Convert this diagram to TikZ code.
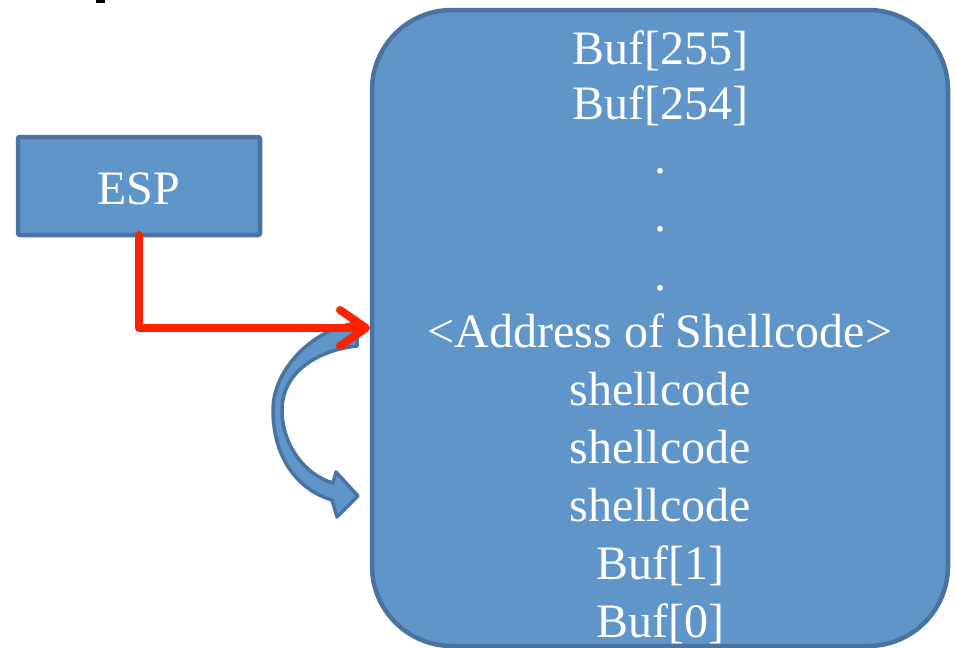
\documentclass[tikz,border=0pt]{standalone}
\usepackage{fontspec}
\setmainfont{Liberation Serif}
\usetikzlibrary{arrows.meta}
\definecolor{boxfill}{HTML}{5F95C9}
\definecolor{boxline}{HTML}{4A73A0}
\definecolor{redline}{HTML}{FF2200}
\tikzset{
  x=1pt, y=-1pt,
  memtext/.style={text=white, font=\fontsize{48}{50}\selectfont, anchor=base, inner sep=0pt},
  blockbox/.style={fill=boxfill, draw=boxline, line width=4.5pt},
  pointer/.style={draw=redline, line width=8pt, line cap=round, line join=round,
    -{Straight Barb[length=26pt,width=36pt,round]}},
  curvearrow/.style={fill=boxfill, draw=boxline, line width=3.5pt, line join=round}
}
\begin{document}
\begin{tikzpicture}
\useasboundingbox (0,0) rectangle (956,648);
% tiny cut-off fragment at the top edge
\fill (96,0) rectangle (105,3);
% big stack box
\draw[blockbox, rounded corners=80pt] (372,10) rectangle (948,646);
\coordinate (stackL) at (370,328);
% ESP box
\draw[blockbox, rounded corners=2pt] (18,137) rectangle (260,235);
\node[memtext] (esp) at (139,204) {ESP};
\coordinate (espS) at (139,235);
% texts
\node[memtext] (b255) at (660,64) {Buf[255]};
\node[memtext] (b254) at (660,119) {Buf[254]};
\node[memtext] (d1) at (660,173) {.};
\node[memtext] (d2) at (660,231) {.};
\node[memtext] (d3) at (660,290) {.};
\node[memtext] (addr) at (660,347) {<Address of Shellcode>};
\node[memtext] (s1) at (660,405) {shellcode};
\node[memtext] (s2) at (660,463) {shellcode};
\node[memtext] (s3) at (660,521) {shellcode};
\node[memtext] (b1) at (660,579) {Buf[1]};
\node[memtext] (b0) at (660,637) {Buf[0]};
% curved block arrow
\draw[curvearrow] (357,323) .. controls (315,328) and (273,368) .. (273,410)
  .. controls (273,458) and (298,490) .. (332,500)
  -- (337,517) -- (358,496) -- (336,472) -- (333,483)
  .. controls (305,475) and (282,445) .. (282,410)
  .. controls (282,372) and (318,350) .. (357,346) -- cycle;
% red pointer
\draw[pointer] (espS) |- (stackL);
\end{tikzpicture}
\end{document}
